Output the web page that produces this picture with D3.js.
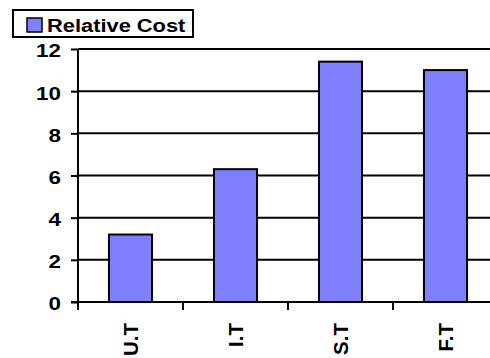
<!DOCTYPE html>
<html><head><meta charset="utf-8">
<script src="https://cdn.jsdelivr.net/npm/d3@7"></script>
<style>body{margin:0;background:#fff}svg{display:block}text{font-family:"Liberation Sans",Arial,sans-serif;font-weight:bold;fill:#000}</style>
</head><body>
<script>
const categories = ["U.T", "I.T", "S.T", "F.T"];
const values = [3.2, 6.3, 11.4, 11.0];
const yTicks = [0, 2, 4, 6, 8, 10, 12];
const seriesName = "Relative Cost";

(function () {
const W = 490, H = 358;
const svg = d3.select("body").append("svg").attr("width", W).attr("height", H);
const pLeft = 78, pRight = 498, pTop = 49, pBottom = 302;

const x = d3.scaleBand().domain(categories).range([pLeft, pRight]).paddingInner(0.59).paddingOuter(0.295);
const y = d3.scaleLinear().domain([0, 12]).range([pBottom, pTop]);

// gridlines
svg.append("g").selectAll("line").data(yTicks.filter(d => d > 0)).join("line")
  .attr("x1", pLeft).attr("x2", W).attr("y1", d => y(d)).attr("y2", d => y(d))
  .attr("stroke", "#000").attr("stroke-width", 2);

// bars
svg.append("g").selectAll("rect").data(values).join("rect")
  .attr("x", (d, i) => x(categories[i])).attr("width", x.bandwidth())
  .attr("y", d => y(d)).attr("height", d => y(0) - y(d))
  .attr("fill", "#8080FF").attr("stroke", "#000").attr("stroke-width", 2);

// y axis
const ya = svg.append("g").attr("transform", `translate(${pLeft},0)`)
  .call(d3.axisLeft(y).tickValues(yTicks).tickSize(7).tickPadding(0).tickSizeOuter(0));
ya.attr("font-family", null).attr("font-size", null);
ya.select(".domain").remove();
ya.selectAll(".tick line").attr("stroke", "#000").attr("stroke-width", 2);
ya.selectAll(".tick text").attr("x", 0).attr("dy", "0.42em").attr("fill", "#000")
  .attr("transform", "translate(-17,0) scale(1.18,1)")
  .style("font-size", "19px").style("font-weight", "bold");
svg.append("line").attr("x1", pLeft).attr("x2", pLeft).attr("y1", pTop).attr("y2", pBottom + 8)
  .attr("stroke", "#000").attr("stroke-width", 2);

// x axis
svg.append("line").attr("x1", pLeft - 7).attr("x2", W).attr("y1", pBottom).attr("y2", pBottom)
  .attr("stroke", "#000").attr("stroke-width", 2);
const boundaries = categories.map((c, i) => pLeft + i * x.step());
svg.append("g").selectAll("line").data(boundaries).join("line")
  .attr("x1", d => d).attr("x2", d => d).attr("y1", pBottom).attr("y2", pBottom + 8)
  .attr("stroke", "#000").attr("stroke-width", 2);
svg.append("g").selectAll("text").data(categories).join("text")
  .attr("transform", d => `translate(${x(d) + x.bandwidth() / 2},323) rotate(-90)`)
  .attr("text-anchor", "end").attr("dy", "0.36em").style("font-size", "20.5px")
  .text(d => d);

// legend
const lg = svg.append("g");
lg.append("rect").attr("x", 13).attr("y", 10).attr("width", 180).attr("height", 27)
  .attr("fill", "#fff").attr("stroke", "#000").attr("stroke-width", 2);
lg.append("rect").attr("x", 27).attr("y", 18).attr("width", 15).attr("height", 14)
  .attr("fill", "#8080FF").attr("stroke", "#000").attr("stroke-width", 1.5);
lg.append("text").attr("transform", "translate(47,32) scale(1.15,1)").style("font-size", "19px").text(seriesName);
})();
</script>
</body></html>
